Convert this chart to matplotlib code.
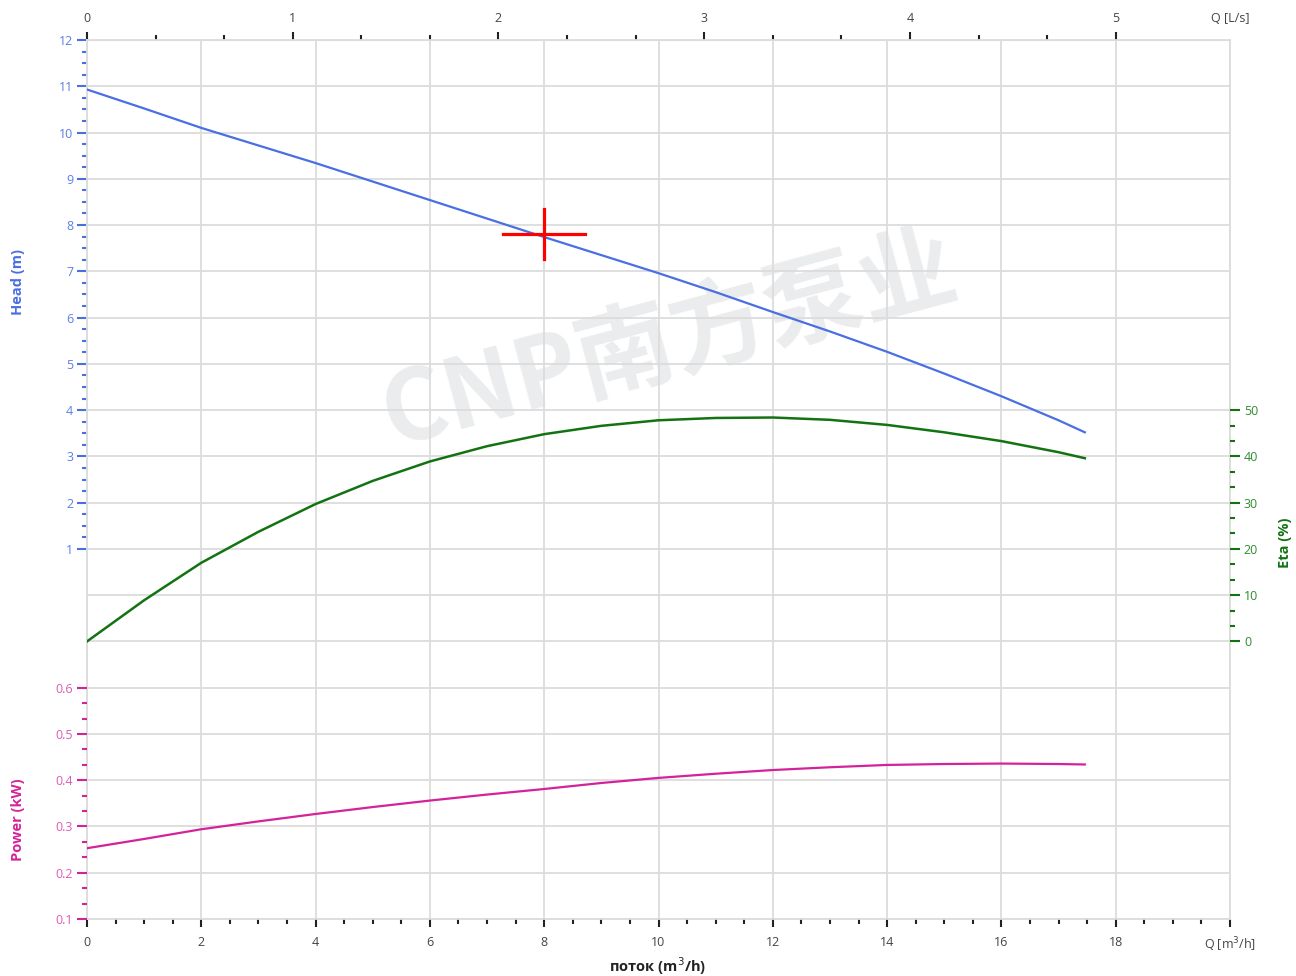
import numpy as np
import matplotlib
matplotlib.use('Agg')
from matplotlib import pyplot as plt

# flow in m3/h
q = [0, 1, 2, 3, 4, 5, 6, 7, 8, 9, 10, 11, 12, 13, 14, 15, 16, 17, 17.46]
head = [10.93, 10.52, 10.1, 9.72, 9.34, 8.94, 8.54, 8.14, 7.74, 7.35, 6.96, 6.55, 6.12, 5.70, 5.26, 4.79, 4.30, 3.78, 3.52]
eta = [0, 8.9, 17.0, 23.7, 29.7, 34.7, 38.9, 42.2, 44.8, 46.6, 47.8, 48.3, 48.4, 47.9, 46.8, 45.2, 43.3, 40.9, 39.6]
power = [0.253, 0.273, 0.294, 0.311, 0.327, 0.342, 0.356, 0.369, 0.381, 0.394, 0.405, 0.414, 0.422, 0.428, 0.433, 0.435, 0.436, 0.435, 0.434]

op_q = 8.0
op_h = 7.8

head_ticks = list(range(1, 13))
eta_ticks = [0, 10, 20, 30, 40, 50]
power_ticks = [0.1, 0.2, 0.3, 0.4, 0.5, 0.6]
q_ticks = list(range(0, 21, 2))
q_labels = [str(v) for v in q_ticks[:-1]] + ['Q [m$^3$/h]']
ls_ticks = [0, 1, 2, 3, 4, 5]

c_head = '#4a6fe3'
c_head_txt = '#5b7fe8'
c_eta = '#137313'
c_eta_txt = '#2e8b2e'
c_pow = '#d4239a'
c_pow_txt = '#dc5cb4'
grid_c = '#dcdcdc'

plt.rcParams['font.family'] = ['Open Sans', 'DejaVu Sans']

fig = plt.figure(figsize=(12.96, 9.76), dpi=100)
ax = fig.add_axes([87 / 1296, 1 - 919 / 976, (1230 - 87) / 1296, (919 - 40) / 976])

# watermark
ax.text(0.51, 0.655, 'CNP南方泵业', transform=ax.transAxes, ha='center', va='center',
        fontsize=70, fontweight='bold', color='#ebecee', rotation=15, zorder=0,
        family=['Noto Sans CJK SC', 'DejaVu Sans'])

ax.set_xlim(0, 20)
ax.set_ylim(-7, 12)
for yy in range(-7, 13):
    ax.axhline(yy, color=grid_c, lw=1.3, zorder=1)
for xx in q_ticks:
    ax.axvline(xx, color=grid_c, lw=1.3, zorder=1)

ax.plot(q, head, color=c_head, lw=1.6, zorder=5)
ax.plot([op_q - 0.72, op_q + 0.72], [op_h, op_h], color='red', lw=2.3, zorder=6)
ax.plot([op_q, op_q], [op_h - 0.54, op_h + 0.54], color='red', lw=2.3, zorder=6)

for s in ax.spines.values():
    s.set_color(grid_c)
    s.set_linewidth(1.3)

ax.set_yticks(head_ticks)
ax.set_yticks([v for v in np.arange(1, 12.01, 0.25) if v % 1 != 0], minor=True)
ax.tick_params(axis='y', which='major', colors=c_head, labelcolor=c_head_txt, length=7, width=1.5, labelsize=9, pad=3)
ax.tick_params(axis='y', which='minor', colors=c_head, length=3.5, width=1.5)

ax.set_xticks(q_ticks)
ax.set_xticklabels(q_labels)
ax.set_xticks(np.arange(0, 20.01, 0.5), minor=True)
ax.tick_params(axis='x', which='major', colors='#222222', labelcolor='#444444', length=6, width=1.5, labelsize=9, pad=6)
ax.tick_params(axis='x', which='minor', colors='#222222', length=3.5, width=1.5)

# top axis in L/s
top = ax.secondary_xaxis('top', functions=(lambda v: v / 3.6, lambda v: v * 3.6))
top.set_xticks(ls_ticks)
top.set_xticks(np.arange(0, 5.01, 1 / 3), minor=True)
top.tick_params(axis='x', which='major', colors='#222222', labelcolor='#444444', length=6, width=1.5, labelsize=9, pad=5)
top.tick_params(axis='x', which='minor', colors='#222222', length=3.5, width=1.5)
top.spines['top'].set_color(grid_c)

# power axis (left, bottom part)
axp = ax.twinx()
axp.set_ylim(0.1, 2.0)
axp.yaxis.tick_left()
axp.plot(q, power, color=c_pow, lw=1.6, zorder=5)
axp.set_yticks(power_ticks)
axp.set_yticks([v for v in np.arange(0.1, 0.6, 0.1 / 3) if abs(round(v * 10) - v * 10) > 1e-6], minor=True)
axp.tick_params(axis='y', which='major', colors=c_pow, labelcolor=c_pow_txt, length=7, width=1.5, labelsize=9, pad=3)
axp.tick_params(axis='y', which='minor', colors=c_pow, length=3.5, width=1.5)
for s in axp.spines.values():
    s.set_visible(False)

# eta axis (right)
axe = ax.twinx()
axe.set_ylim(-60, 130)
axe.plot(q, eta, color=c_eta, lw=1.8, zorder=5)
axe.set_yticks(eta_ticks)
axe.set_yticks([v for v in np.arange(0, 50, 10 / 3) if abs(round(v / 10) * 10 - v) > 1e-6], minor=True)
axe.tick_params(axis='y', which='major', colors=c_eta, labelcolor=c_eta_txt, length=7, width=1.5, labelsize=9, pad=3)
axe.tick_params(axis='y', which='minor', colors=c_eta, length=3.5, width=1.5)
for s in axe.spines.values():
    s.set_visible(False)

fig.text(18 / 1296, 1 - 282 / 976, 'Head (m)', rotation=90, ha='center', va='center',
         color=c_head, fontsize=10.5, fontweight='bold')
fig.text(18 / 1296, 1 - 820 / 976, 'Power (kW)', rotation=90, ha='center', va='center',
         color=c_pow, fontsize=10.5, fontweight='bold')
fig.text(1285 / 1296, 1 - 543 / 976, 'Eta (%)', rotation=90, ha='center', va='center',
         color=c_eta, fontsize=10.5, fontweight='bold')
fig.text(1230 / 1296, 1 - 18 / 976, 'Q [L/s]', ha='center', va='center', color='#444444', fontsize=9)
fig.text(658 / 1296, 1 - 966 / 976, 'поток (m$^3$/h)', ha='center', va='center',
         color='#222222', fontsize=10.5, fontweight='bold')

fig.savefig('out.png', dpi=100)
